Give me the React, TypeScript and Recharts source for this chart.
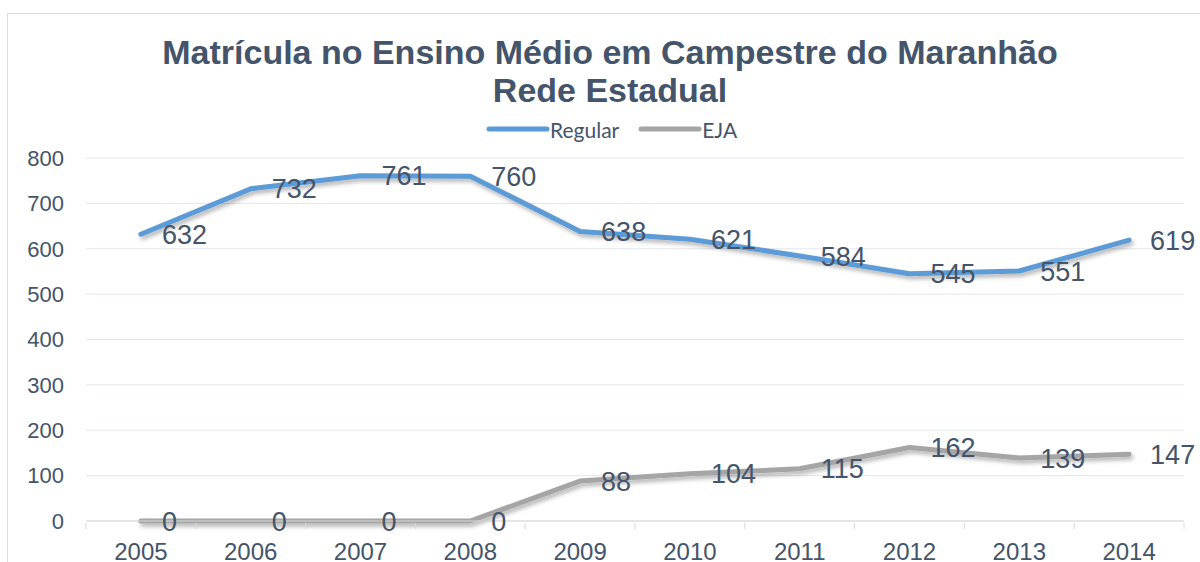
import React from 'react';
import { LineChart, Line, XAxis, YAxis, CartesianGrid, LabelList } from 'recharts';

const years = ['2005', '2006', '2007', '2008', '2009', '2010', '2011', '2012', '2013', '2014'];
const regular = [632, 732, 761, 760, 638, 621, 584, 545, 551, 619];
const eja = [0, 0, 0, 0, 88, 104, 115, 162, 139, 147];
const yTicks = [0, 100, 200, 300, 400, 500, 600, 700, 800];
const seriesNames = ['Regular', 'EJA'];
const seriesColors = ['#5B9BD5', '#A5A5A5'];
const titleLines = ['Matrícula no Ensino Médio em Campestre do Maranhão', 'Rede Estadual'];

const data = years.map((y, i) => ({ year: y, Regular: regular[i], EJA: eja[i] }));

const W = 1200;
const H = 562;
const MARGIN = { top: 158, right: 16, bottom: 0, left: 26 };
const Y_W = 60;
const X_H = 41;
const TEXT = '#44546A';
const FONT = '"Liberation Sans", Arial, sans-serif';
const plotW = W - MARGIN.left - MARGIN.right - Y_W;
const band = plotW / years.length;

const XTick = (props: any) => {
  const { x, y, payload, index } = props;
  const left = x - band / 2;
  const right = x + band / 2;
  return (
    <g>
      <line x1={left} y1={y} x2={left} y2={y + 6} stroke="#D9D9D9" strokeWidth={1} />
      {index === years.length - 1 && (
        <line x1={right} y1={y} x2={right} y2={y + 6} stroke="#D9D9D9" strokeWidth={1} />
      )}
      <text x={x} y={y + 37} textAnchor="middle" fill={TEXT} fontSize={24} fontFamily={FONT}>
        {payload.value}
      </text>
    </g>
  );
};

export default function App() {
  return (
    <div style={{ position: 'absolute', left: 0, top: 0, width: W, height: H, background: '#fff', overflow: 'hidden' }}>
      <div
        style={{
          position: 'absolute',
          left: 7,
          top: 13,
          width: W,
          height: H,
          borderTop: '1.5px solid #D9DDE3',
          borderLeft: '1.5px solid #D9DDE3',
        }}
      />
      <div
        style={{
          position: 'absolute',
          left: 10,
          top: 33,
          width: W,
          textAlign: 'center',
          fontFamily: FONT,
          fontWeight: 'bold',
          fontSize: 34,
          lineHeight: '38px',
          color: TEXT,
        }}
      >
        {titleLines.map((t) => (
          <div key={t}>{t}</div>
        ))}
      </div>
      <div
        style={{
          position: 'absolute',
          left: 486,
          top: 115,
          display: 'flex',
          alignItems: 'center',
          fontFamily: 'Lato, sans-serif',
          fontSize: 21,
          color: TEXT,
          height: 28,
        }}
      >
        {seriesNames.map((n, i) => (
          <div key={n} style={{ display: 'flex', alignItems: 'center', marginRight: 19 }}>
            <svg width={64} height={10}>
              <line x1={3} y1={5} x2={61} y2={5} stroke={seriesColors[i]} strokeWidth={5} strokeLinecap="round" />
            </svg>
            <span>{n}</span>
          </div>
        ))}
      </div>
      <div style={{ position: 'absolute', left: 0, top: 0 }}>
        <LineChart width={W} height={H} data={data} margin={MARGIN}>
          <defs>
            <filter id="shadow" x="-10%" y="-10%" width="120%" height="140%">
              <feDropShadow dx="2" dy="3" stdDeviation="2" floodColor="#000" floodOpacity="0.3" />
            </filter>
          </defs>
          <CartesianGrid vertical={false} stroke="#E3E7EE" strokeWidth={1} />
          <XAxis
            dataKey="year"
            height={X_H}
            padding={{ left: band / 2, right: band / 2 }}
            axisLine={{ stroke: '#D9D9D9', strokeWidth: 1 }}
            tickLine={false}
            tickSize={0}
            tick={<XTick />}
            interval={0}
          />
          <YAxis
            width={Y_W}
            domain={[0, 800]}
            ticks={yTicks}
            axisLine={false}
            tickLine={false}
            tickSize={0}
            tickMargin={22}
            tick={{ fill: TEXT, fontSize: 22, fontFamily: FONT }}
          />
          {seriesNames.map((n, i) => (
            <Line
              key={n}
              type="linear"
              dataKey={n}
              stroke={seriesColors[i]}
              strokeWidth={5}
              strokeLinecap="round"
              strokeLinejoin="round"
              dot={false}
              activeDot={false}
              filter="url(#shadow)"
              isAnimationActive={false}
            >
              <LabelList dataKey={n} position="right" offset={21} fill={TEXT} fontSize={27} fontFamily={FONT} />
            </Line>
          ))}
        </LineChart>
      </div>
    </div>
  );
}
